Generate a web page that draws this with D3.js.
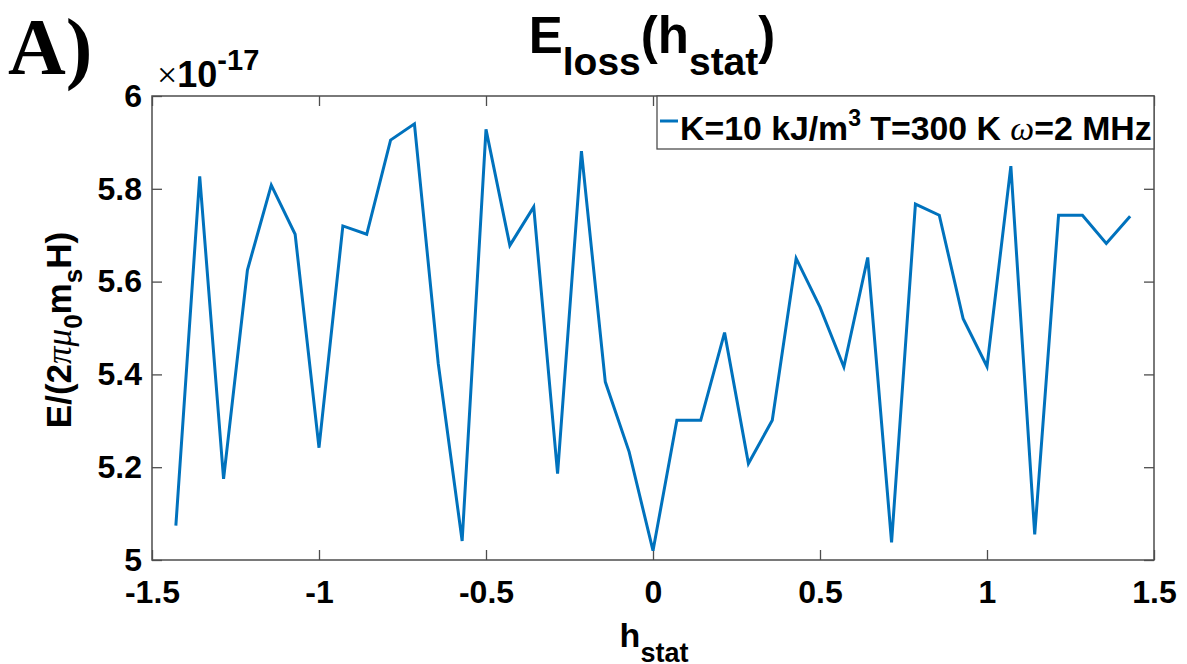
<!DOCTYPE html>
<html>
<head>
<meta charset="utf-8">
<script src="https://cdn.jsdelivr.net/npm/d3@7"></script>
<style>
  html, body { margin: 0; padding: 0; background: #fff; }
  svg { display: block; font-family: "Liberation Sans", Arial, sans-serif; }
</style>
</head>
<body>
<svg id="chart" width="1187" height="664"></svg>
<script>
// ---- data ----
const hStat = [
  -20/14, -19/14, -18/14, -17/14, -16/14, -15/14, -14/14, -13/14, -12/14, -11/14,
  -10/14, -9/14, -8/14, -7/14, -6/14, -5/14, -4/14, -3/14, -2/14, -1/14,
  0, 1/14, 2/14, 3/14, 4/14, 5/14, 6/14, 7/14, 8/14, 9/14,
  10/14, 11/14, 12/14, 13/14, 14/14, 15/14, 16/14, 17/14, 18/14, 19/14, 20/14
];
const eLoss = [ // in units of 1e-17
  5.074, 5.827, 5.175, 5.625, 5.808, 5.702, 5.242, 5.720, 5.702, 5.905,
  5.940, 5.423, 5.041, 5.928, 5.678, 5.761, 5.186, 5.881, 5.384, 5.233,
  5.020, 5.301, 5.301, 5.490, 5.208, 5.301, 5.650, 5.545, 5.416, 5.652,
  5.038, 5.767, 5.743, 5.520, 5.417, 5.849, 5.055, 5.743, 5.743, 5.682, 5.741
];
const xTicks = [-1.5, -1, -0.5, 0, 0.5, 1, 1.5];
const xTickLabels = ["-1.5", "-1", "-0.5", "0", "0.5", "1", "1.5"];
const yTicks = [5, 5.2, 5.4, 5.6, 5.8, 6];
const yTickLabels = ["5", "5.2", "5.4", "5.6", "5.8", "6"];

// ---- layout ----
const SANS = "'Liberation Sans', Arial, sans-serif";
const SERIF = "'Liberation Serif', 'Times New Roman', serif";
const svg = d3.select("#chart");
const L = 152, R = 1154, T = 96, B = 560;
const x = d3.scaleLinear().domain([-1.5, 1.5]).range([L, R]);
const y = d3.scaleLinear().domain([5, 6]).range([B, T]);
const axisColor = "#4d4d4d";
const lineColor = "#0072BD";
const tickLen = 10;

svg.append("rect").attr("x", L).attr("y", T).attr("width", R - L).attr("height", B - T).attr("fill", "#fff");

function styleAxis(g) {
  g.selectAll(".domain").remove();
  g.selectAll(".tick line").attr("stroke", axisColor).attr("stroke-width", 1.3);
}
const xBottom = svg.append("g").attr("transform", `translate(0,${B})`)
  .call(d3.axisBottom(x).tickValues(xTicks).tickSize(-tickLen).tickFormat((d, i) => xTickLabels[i]));
styleAxis(xBottom);
xBottom.selectAll(".tick text").style("font-size", "32px").style("font-weight", "bold").style("font-family", SANS)
  .attr("fill", "#000").attr("dy", "0.71em").attr("y", 20);

const xTop = svg.append("g").attr("transform", `translate(0,${T})`)
  .call(d3.axisTop(x).tickValues(xTicks).tickSize(-tickLen).tickFormat(""));
styleAxis(xTop);

const yLeft = svg.append("g").attr("transform", `translate(${L},0)`)
  .call(d3.axisLeft(y).tickValues(yTicks).tickSize(-tickLen).tickFormat((d, i) => yTickLabels[i]));
styleAxis(yLeft);
yLeft.selectAll(".tick text").style("font-size", "32px").style("font-weight", "bold").style("font-family", SANS)
  .attr("fill", "#000").attr("x", -10);

const yRight = svg.append("g").attr("transform", `translate(${R},0)`)
  .call(d3.axisRight(y).tickValues(yTicks).tickSize(-tickLen).tickFormat(""));
styleAxis(yRight);

// data line
const line = d3.line().x((d, i) => x(hStat[i])).y(d => y(d));
svg.append("path").datum(eLoss)
  .attr("d", line)
  .attr("fill", "none")
  .attr("stroke", lineColor)
  .attr("stroke-width", 3)
  .attr("stroke-linejoin", "miter");

// box
svg.append("rect").attr("x", L).attr("y", T).attr("width", R - L).attr("height", B - T)
  .attr("fill", "none").attr("stroke", axisColor).attr("stroke-width", 1.5);

// legend
const lg = svg.append("g");
lg.append("rect").attr("x", 657).attr("y", T).attr("width", R - 657).attr("height", 53)
  .attr("fill", "#fff").attr("stroke", axisColor).attr("stroke-width", 1.3);
lg.append("line").attr("x1", 660).attr("x2", 678).attr("y1", 121).attr("y2", 121)
  .attr("stroke", lineColor).attr("stroke-width", 3);
const lt = lg.append("text").attr("x", 680).attr("y", 140).style("font-family", SANS)
  .style("font-size", "33.8px").style("font-weight", "bold").attr("fill", "#000");
lt.append("tspan").text("K=10 kJ/m");
lt.append("tspan").style("font-size", "23px").attr("dy", -14).text("3");
lt.append("tspan").attr("dy", 14).text(" T=300 K ");
lt.append("tspan").style("font-family", SERIF).style("font-style", "italic").style("font-weight", "normal").text("ω");
lt.append("tspan").text("=2 MHz");

// multiplier
const mt = svg.append("text").attr("x", 157).attr("y", 87).style("font-family", SANS).style("font-size", "36px").attr("fill", "#000");
mt.append("tspan").style("font-family", SERIF).style("font-weight", "normal").text("×");
mt.append("tspan").style("font-weight", "bold").text("10");
mt.append("tspan").style("font-weight", "bold").style("font-size", "29px").attr("dy", -17).text("-17");

// title
const tt = svg.append("text").attr("x", 652).attr("y", 53).attr("text-anchor", "middle")
  .style("font-family", SANS).style("font-size", "51px").style("font-weight", "bold").attr("fill", "#000");
tt.append("tspan").text("E");
tt.append("tspan").style("font-size", "39px").attr("dy", 22).text("loss");
tt.append("tspan").attr("dy", -22).text("(h");
tt.append("tspan").style("font-size", "39px").attr("dy", 22).text("stat");
tt.append("tspan").attr("dy", -22).text(")");

// x label
const xl = svg.append("text").attr("x", 654).attr("y", 647).attr("text-anchor", "middle")
  .style("font-family", SANS).style("font-size", "34px").style("font-weight", "bold").attr("fill", "#000");
xl.append("tspan").text("h");
xl.append("tspan").style("font-size", "27px").attr("dy", 15).text("stat");

// y label
const yl = svg.append("text").attr("transform", "translate(71,330) rotate(-90)").attr("text-anchor", "middle")
  .style("font-family", SANS).style("font-size", "35px").style("font-weight", "bold").attr("fill", "#000");
yl.append("tspan").text("E/(2");
yl.append("tspan").style("font-family", SERIF).style("font-weight", "normal").style("font-style", "italic").text("π");
yl.append("tspan").style("font-family", SERIF).style("font-weight", "normal").style("font-style", "italic").text("μ");
yl.append("tspan").style("font-size", "26px").attr("dy", 11).text("0");
yl.append("tspan").attr("dy", -11).text("m");
yl.append("tspan").style("font-size", "26px").attr("dy", 11).text("s");
yl.append("tspan").attr("dy", -11).text("H)");

// panel letter
svg.append("text").attr("x", 8).attr("y", 74).style("font-family", SERIF)
  .style("font-size", "80px").style("font-weight", "bold").attr("fill", "#000").text("A)");
</script>
</body>
</html>
